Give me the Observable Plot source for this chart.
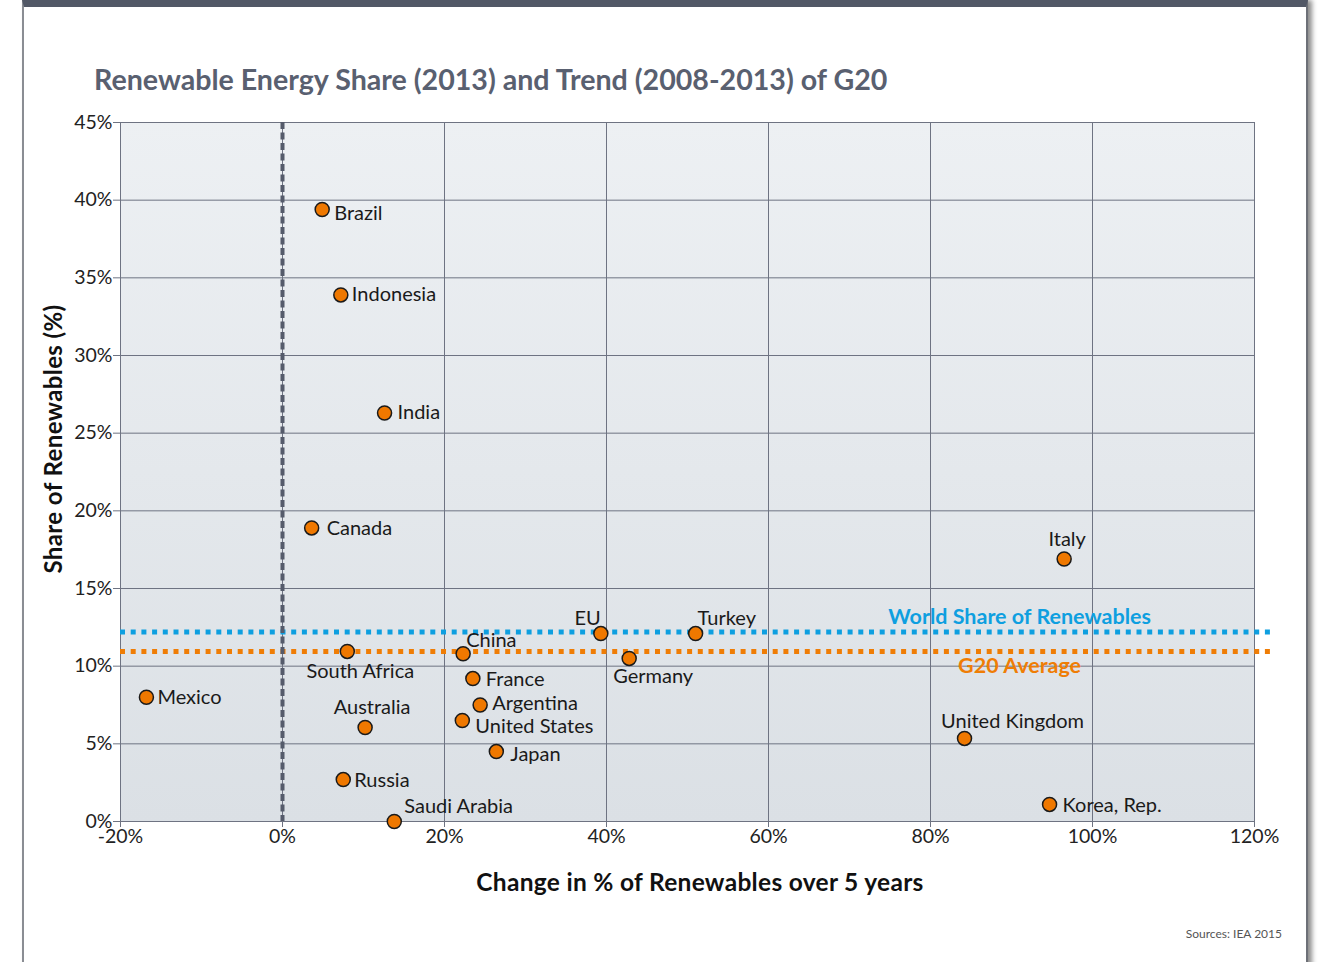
<!DOCTYPE html>
<html>
<head>
<meta charset="utf-8">
<script src="https://cdn.jsdelivr.net/npm/d3@7"></script>
<script src="https://cdn.jsdelivr.net/npm/@observablehq/plot@0.6"></script>
<style>
  html, body { margin: 0; padding: 0; background: #fff; width: 1323px; height: 962px; overflow: hidden; font-family: Lato, "Open Sans", sans-serif; }
  #card { position: absolute; left: 22px; top: 0; width: 1286px; height: 990px; box-sizing: border-box;
          border-top: 7px solid #525866; border-left: 2px solid #8a8d93; border-right: 2px solid #6d7077; border-bottom: 2px solid #6d7077;
          border-radius: 0 0 18px 18px; box-shadow: 4px 0 5px rgba(0,0,0,0.45); background: #fff; }
  #title { position: absolute; left: 94px; top: 62px; font-size: 28.6px; font-weight: 700; color: #596070; white-space: nowrap; line-height: 34px; }
  #plot { position: absolute; left: 0; top: 100px; }
  #ylab { position: absolute; left: 52px; top: 439px; transform: translate(-50%, -50%) rotate(-90deg); font-size: 24px; font-weight: 700; color: #111; white-space: nowrap; letter-spacing: 0.4px; }
  #xlab { position: absolute; left: 700px; top: 881px; transform: translate(-50%, -50%); font-size: 24.5px; font-weight: 700; color: #111; white-space: nowrap; letter-spacing: 0.3px; }
  #source { position: absolute; right: 41px; top: 926px; font-size: 12px; color: #555; white-space: nowrap; }
</style>
</head>
<body>
<div id="card"></div>
<div id="title">Renewable Energy Share (2013) and Trend (2008-2013) of G20</div>
<div id="plot"></div>
<div id="ylab">Share of Renewables (%)</div>
<div id="xlab">Change in % of Renewables over 5 years</div>
<div id="source">Sources: IEA 2015</div>
<script>
// ---- data ----
const countries = ["Brazil","Indonesia","India","Canada","South Africa","Mexico","Australia","Russia","Saudi Arabia","China","France","Argentina","United States","Japan","EU","Germany","Turkey","Italy","United Kingdom","Korea, Rep."];
const changePct = [4.9, 7.2, 12.6, 3.6, 8.0, -16.8, 10.2, 7.5, 13.8, 22.3, 23.5, 24.4, 22.2, 26.4, 39.3, 42.8, 51.0, 96.5, 84.2, 94.7];
const sharePct  = [39.4, 33.9, 26.3, 18.9, 10.95, 8.0, 6.05, 2.7, 0.0, 10.8, 9.2, 7.5, 6.5, 4.5, 12.1, 10.5, 12.1, 16.9, 5.35, 1.1];
const worldShare = 12.2;
const g20Average = 10.95;
const xTicks = [-20, 0, 20, 40, 60, 80, 100, 120];
const yTicks = [0, 5, 10, 15, 20, 25, 30, 35, 40, 45];

// label placement (style only): anchor, dx, dy
const labelPlacement = {
  "Brazil": ["start", 12, 4], "Indonesia": ["start", 11, 0], "India": ["start", 13, 0], "Canada": ["start", 15, 1],
  "South Africa": ["middle", 13, 20], "Mexico": ["start", 11, 0], "Australia": ["middle", 7, -20], "Russia": ["start", 11, 1],
  "Saudi Arabia": ["start", 10, -15], "China": ["start", 3, -13], "France": ["start", 13, 1], "Argentina": ["start", 12, -1],
  "United States": ["start", 13, 6], "Japan": ["start", 14, 3], "EU": ["end", 0, -15], "Germany": ["middle", 24, 18],
  "Turkey": ["start", 2, -15], "Italy": ["middle", 3, -19], "United Kingdom": ["middle", 48, -17], "Korea, Rep.": ["start", 13, 1]
};

const data = countries.map((c, i) => ({country: c, x: changePct[i], y: sharePct[i]}));

const blue = "#0e9fe0", orange = "#ef7d05", grid = "#6e7382";
const labelMarks = data.map(d => {
  const [anchor, dx, dy] = labelPlacement[d.country];
  return Plot.text([d], {x: "x", y: "y", text: "country", textAnchor: anchor, dx, dy, fontSize: 20, fill: "#1a1a1a"});
});

const chart = Plot.plot({
  width: 1323, height: 800,
  marginLeft: 120, marginRight: 69, marginTop: 22, marginBottom: 79,
  style: {fontFamily: "Lato, 'Open Sans', sans-serif", fontSize: "19.5px", color: "#222", background: "transparent", overflow: "visible"},
  x: {domain: [-20, 120], ticks: xTicks, tickFormat: d => d + "%"},
  y: {domain: [0, 45], ticks: yTicks, tickFormat: d => d + "%"},
  marks: [
    Plot.frame({fill: "url(#bggrad)", stroke: null}),
    Plot.gridX(xTicks, {stroke: grid, strokeOpacity: 1, strokeWidth: 1}),
    Plot.gridY(yTicks, {stroke: grid, strokeOpacity: 1, strokeWidth: 1}),
    Plot.frame({stroke: grid, strokeWidth: 1}),
    Plot.ruleY([worldShare], {x1: -20, x2: 122.4, stroke: blue, strokeWidth: 5, strokeDasharray: "5,5.7"}),
    Plot.ruleY([g20Average], {x1: -20, x2: 122.4, stroke: orange, strokeWidth: 5, strokeDasharray: "5,5.7"}),
    Plot.text([worldShare], {x: 91, y: d => d, text: () => "World Share of Renewables", dy: -15, fill: blue, fontWeight: 700, fontSize: 21.5}),
    Plot.text([g20Average], {x: 91, y: d => d, text: () => "G20 Average", dy: 15, fill: orange, fontWeight: 700, fontSize: 21.5}),
    Plot.ruleX([0], {stroke: "#555b6b", strokeWidth: 4, strokeDasharray: "7,3.5"}),
    Plot.dot(data, {x: "x", y: "y", r: 7, fill: "#ef7800", stroke: "#1a1a1a", strokeWidth: 1.5}),
    ...labelMarks,
    Plot.axisX(xTicks, {tickSize: 6, tickPadding: 2, stroke: grid, label: null, tickFormat: d => d + "%"}),
    Plot.axisY(yTicks, {tickSize: 7, tickPadding: 1, stroke: grid, label: null, tickFormat: d => d + "%"})
  ]
});

const ns = "http://www.w3.org/2000/svg";
const defs = document.createElementNS(ns, "defs");
defs.innerHTML = '<linearGradient id="bggrad" x1="0" y1="0" x2="0" y2="1"><stop offset="0" stop-color="#edf0f3"/><stop offset="1" stop-color="#dbe0e5"/></linearGradient>';
chart.insertBefore(defs, chart.firstChild);
document.getElementById("plot").appendChild(chart);
</script>
</body>
</html>
